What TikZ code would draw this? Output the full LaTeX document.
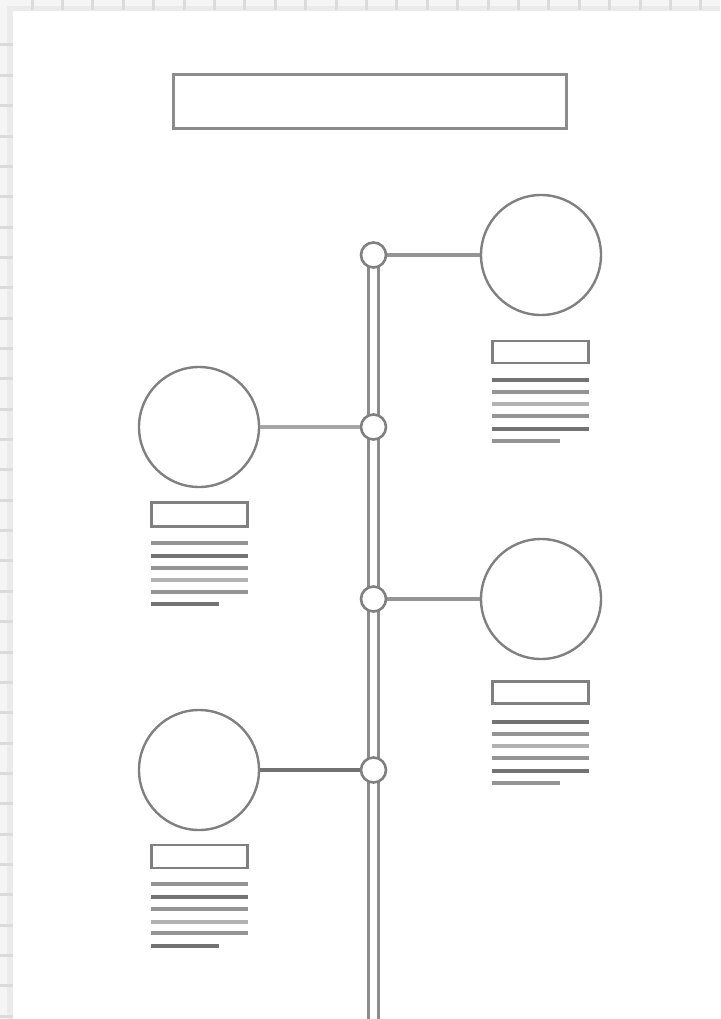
\documentclass[tikz,border=0pt]{standalone}
\begin{document}
\begin{tikzpicture}[x=1pt,y=-1pt,
  bigc/.style={circle,draw=black!50,line width=2.4pt,fill=white,minimum size=120pt,inner sep=0pt},
  smallc/.style={circle,draw=black!50,line width=2.6pt,fill=white,minimum size=25pt,inner sep=0pt},
  headbox/.style={draw=black!50,line width=2.8pt,fill=white,minimum width=96pt,minimum height=22pt,inner sep=0pt},
  titlebox/.style={draw=black!45,line width=3pt,fill=white,minimum width=393pt,minimum height=54pt,inner sep=0pt},
  conn/.style={draw=black!42,line width=3.2pt},
  rail/.style={draw=black!45,line width=3pt},
  tl/.style={line width=3.2pt}
]
\useasboundingbox (0,0) rectangle (720,1019);
% canvas background with rulers
\fill[black!8] (0,0) rectangle (720,1019);
\fill[black!4] (0,0) rectangle (720,6);
\fill[black!4] (0,0) rectangle (7,1019);
\fill[white] (13,11) rectangle (720,1019);
\foreach \i in {0,...,22} \fill[black!14] ({32+30.4*\i-1.5},0) rectangle +(3,10);
\foreach \i in {0,...,32} \fill[black!14] (0,{45+30.35*\i-1.5}) rectangle +(13,3);

% title
\node[titlebox] (title) at (370,102) {};

% rail
\coordinate (railtop) at (373.5,255);
\coordinate (railbot) at (373.5,1019);
\draw[rail] ([xshift=-5pt]railtop) -- ([xshift=-5pt]railbot);
\draw[rail] ([xshift=5pt]railtop) -- ([xshift=5pt]railbot);

% junctions
\node[smallc] (j1) at (373.5,255) {};
\node[smallc] (j2) at (373.5,427) {};
\node[smallc] (j3) at (373.5,599) {};
\node[smallc] (j4) at (373.5,770) {};

% big circles
\node[bigc] (c1) at (541,255) {};
\node[bigc] (c2) at (199,427) {};
\node[bigc] (c3) at (541,599) {};
\node[bigc] (c4) at (199,770) {};

\draw[conn] (j1) -- (c1);
\draw[conn,line width=4pt,draw=black!35] (j2) -- (c2);
\draw[conn] (j3) -- (c3);
\draw[conn,draw=black!55] (j4) -- (c4);

% heading boxes
\node[headbox] (h1) at (540.5,352) {};
\node[headbox,minimum height=24pt] (h2) at (199.5,514.5) {};
\node[headbox] (h3) at (540.5,692.5) {};
\node[headbox,minimum height=23pt] (h4) at (199.5,856.5) {};

% text lines
\foreach \y/\c in {380/55,392/42,404/30,416/42,429/55} \draw[tl,draw=black!\c] (492,\y) -- (589,\y);
\draw[tl,draw=black!42] (492,441) -- (560,441);

\foreach \y/\c in {543/42,556/55,568/42,580/30,592/42} \draw[tl,draw=black!\c] (151,\y) -- (248,\y);
\draw[tl,draw=black!55] (151,604) -- (219,604);

\foreach \y/\c in {722/55,734/42,746/30,758/42,771/55} \draw[tl,draw=black!\c] (492,\y) -- (589,\y);
\draw[tl,draw=black!42] (492,783) -- (560,783);

\foreach \y/\c in {884/42,897/55,909/42,922/30,933/42} \draw[tl,draw=black!\c] (151,\y) -- (248,\y);
\draw[tl,draw=black!55] (151,946) -- (219,946);
\end{tikzpicture}
\end{document}
